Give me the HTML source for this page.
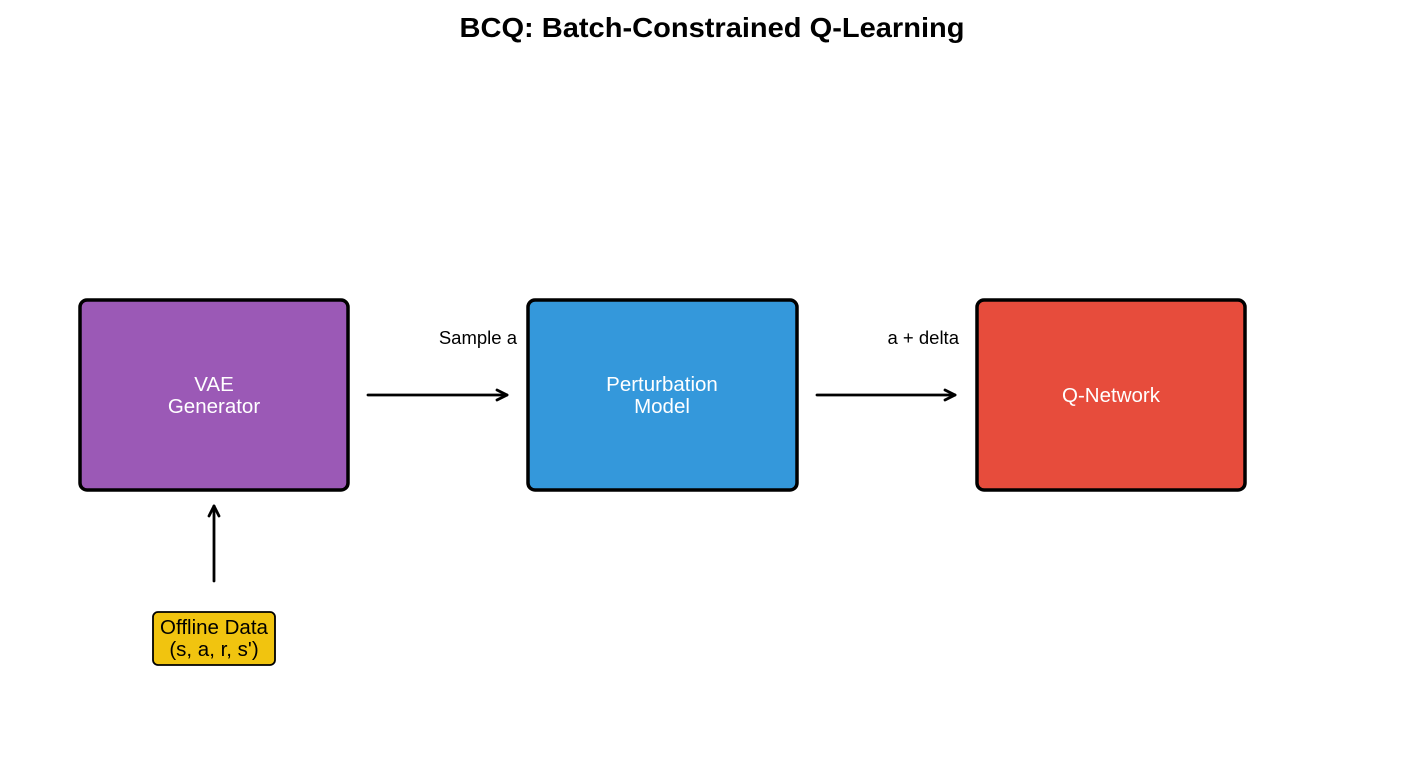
<!DOCTYPE html>
<html><head><meta charset="utf-8"><style>
html,body{margin:0;padding:0;background:#fff;}
svg{display:block;}
text{font-family:"Liberation Sans",Arial,sans-serif;}
</style></head><body>
<svg width="1425" height="757" viewBox="0 0 1425 757" xmlns="http://www.w3.org/2000/svg">
<rect width="1425" height="757" fill="#fff"/>
<text x="712" y="37" text-anchor="middle" font-size="28" font-weight="bold" fill="#000" textLength="505" lengthAdjust="spacingAndGlyphs">BCQ: Batch-Constrained Q-Learning</text>

<rect x="80" y="300" width="268" height="190" rx="7" ry="7" fill="#9b59b6" stroke="#000" stroke-width="3.5"/>
<text x="214" y="391" text-anchor="middle" font-size="20.5" fill="#fff">VAE</text>
<text x="214" y="413" text-anchor="middle" font-size="20.5" fill="#fff">Generator</text>

<rect x="528" y="300" width="269" height="190" rx="7" ry="7" fill="#3498db" stroke="#000" stroke-width="3.5"/>
<text x="662" y="391" text-anchor="middle" font-size="20.5" fill="#fff">Perturbation</text>
<text x="662" y="413" text-anchor="middle" font-size="20.5" fill="#fff">Model</text>

<rect x="977" y="300" width="268" height="190" rx="7" ry="7" fill="#e74c3c" stroke="#000" stroke-width="3.5"/>
<text x="1111" y="402" text-anchor="middle" font-size="20.5" fill="#fff">Q-Network</text>

<g stroke="#000" stroke-width="2.8" fill="none" stroke-linecap="round" stroke-linejoin="round">
<line x1="368" y1="395" x2="507" y2="395"/>
<polyline points="497,390 507,395 497,400"/>
<line x1="817" y1="395" x2="955" y2="395"/>
<polyline points="945,390 955,395 945,400"/>
<line x1="214" y1="581" x2="214" y2="506"/>
<polyline points="209,516 214,506 219,516"/>
</g>

<text x="517" y="344" text-anchor="end" font-size="18.5" fill="#000">Sample a</text>
<text x="959" y="344" text-anchor="end" font-size="18.5" fill="#000">a + delta</text>

<rect x="153" y="612" width="122" height="53" rx="5" ry="5" fill="#f1c40f" stroke="#000" stroke-width="1.8"/>
<text x="214" y="634" text-anchor="middle" font-size="20.5" fill="#000">Offline Data</text>
<text x="214" y="656" text-anchor="middle" font-size="20.5" fill="#000">(s, a, r, s')</text>
</svg>
</body></html>
